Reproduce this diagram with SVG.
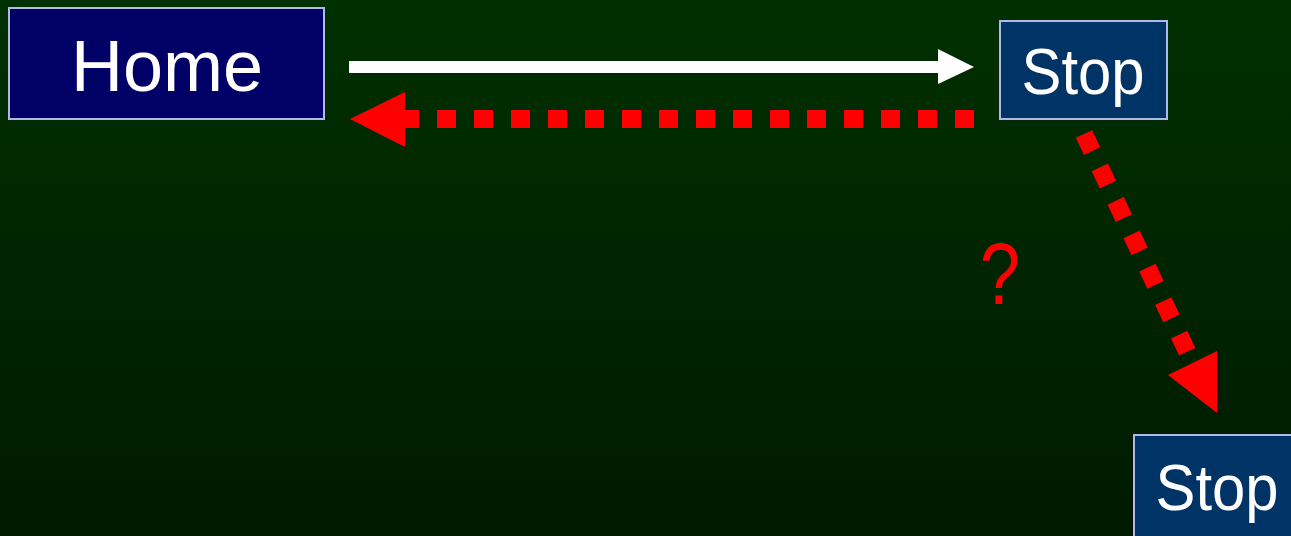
<svg xmlns="http://www.w3.org/2000/svg" width="1291" height="536" viewBox="0 0 1291 536">
<defs>
<linearGradient id="bg" x1="0" y1="0" x2="0" y2="1">
<stop offset="0" stop-color="#003000"/>
<stop offset="1" stop-color="#001a00"/>
</linearGradient>
<style>
.box{stroke:#b4b8e8;stroke-width:2}
.lbl{font-family:"Liberation Sans",Arial,sans-serif;fill:#ffffff;text-anchor:middle}
.red{stroke:#ff0000;stroke-width:18;fill:none;stroke-dasharray:19 18}
</style>
</defs>
<rect width="1291" height="536" fill="url(#bg)"/>
<g id="connectors">
<line x1="349" y1="67" x2="940" y2="67" stroke="#ffffff" stroke-width="12"/>
<polygon points="938,49 974,67 938,84" fill="#ffffff"/>
<line class="red" x1="974" y1="119" x2="400" y2="119"/>
<polygon points="350,119 405,92 405,147" fill="#ff0000"/>
<line class="red" x1="1084" y1="134" x2="1194" y2="366"/>
<polygon points="1217,413 1168,375 1217,351" fill="#ff0000"/>
<text x="1000" y="304" font-family="Liberation Sans,Arial,sans-serif" font-size="88" fill="#ff0000" text-anchor="middle" transform="translate(1000 0) scale(0.82 1) translate(-1000 0)">?</text>
</g>
<g id="home">
<rect class="box" x="9" y="8" width="315" height="111" fill="#000066"/>
<text class="lbl" x="167" y="91" font-size="72">Home</text>
</g>
<g id="stop1">
<rect class="box" x="1000" y="21" width="167" height="98" fill="#003366"/>
<text class="lbl" x="1083" y="94" font-size="64" textLength="123" lengthAdjust="spacingAndGlyphs">Stop</text>
</g>
<g id="stop2">
<rect class="box" x="1134" y="435" width="160" height="104" fill="#003366"/>
<text class="lbl" x="1217" y="510" font-size="64" textLength="123" lengthAdjust="spacingAndGlyphs">Stop</text>
</g>
</svg>
